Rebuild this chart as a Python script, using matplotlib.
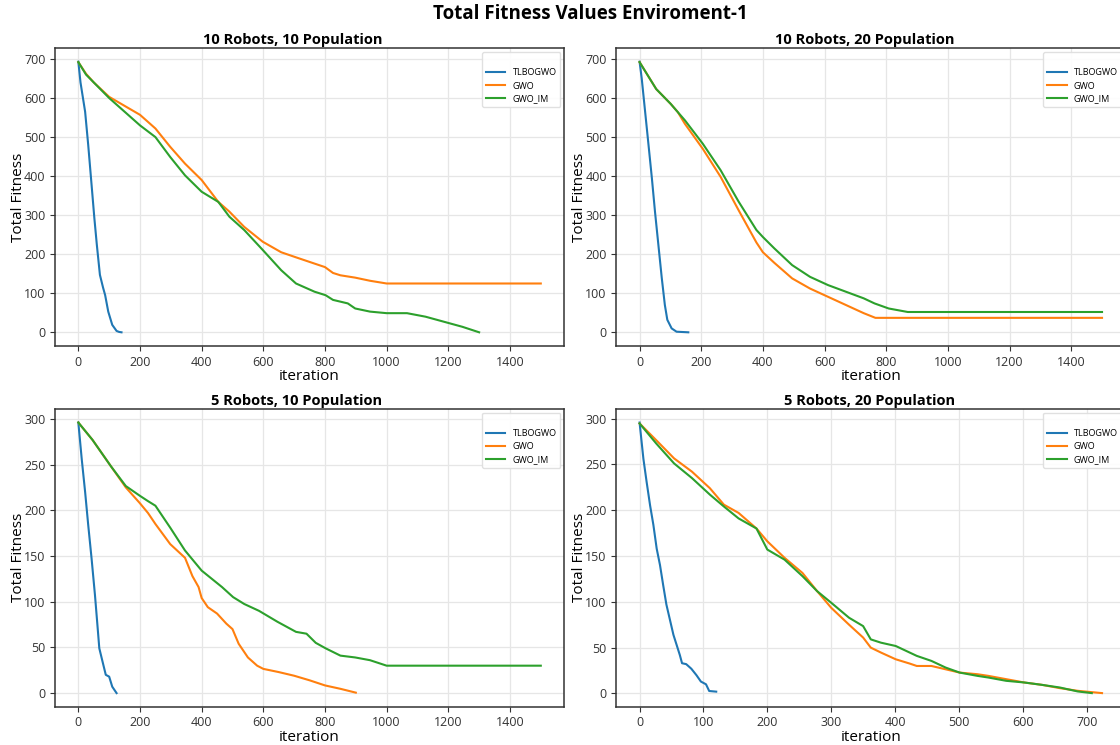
import matplotlib
matplotlib.use("Agg")
import matplotlib.pyplot as plt

plt.rcParams["font.family"] = ["Open Sans", "DejaVu Sans"]

# ---- 10 Robots, 10 Population ----
a_tlbo_it = [0, 7, 22, 32, 43, 52, 60, 70, 80, 87, 97, 110, 124, 132, 140]
a_tlbo_v = [693, 640, 565, 480, 377, 292, 224, 147, 115, 95, 53, 19, 3.5, 1, 0]
a_gwo_it = [0, 25, 50, 100, 150, 200, 250, 298, 346, 400, 454, 490, 538, 598, 658,
            706, 766, 800, 826, 850, 898, 946, 1000, 1500]
a_gwo_v = [692, 662, 640, 603, 580, 557, 522, 475, 432, 390, 334, 309, 270, 232, 205,
           192, 176, 167, 152, 146, 140, 132, 125, 125]
a_im_it = [0, 25, 50, 100, 150, 200, 250, 298, 346, 400, 454, 490, 538, 598, 658, 706,
           766, 802, 826, 874, 898, 946, 1000, 1066, 1126, 1186, 1246, 1300]
a_im_v = [692, 660, 640, 600, 565, 530, 500, 449, 402, 360, 334, 296, 262, 211, 159, 125,
          104, 95, 83, 74, 61, 53, 49, 49, 40, 27, 14, 0]

# ---- 10 Robots, 20 Population ----
b_tlbo_it = [0, 7, 18, 29, 40, 50, 61, 72, 82, 90, 104, 120, 158]
b_tlbo_v = [693, 650, 565, 480, 394, 309, 224, 139, 70, 32, 10, 1.5, 0]
b_gwo_it = [0, 54, 101, 124, 147, 205, 263, 321, 379, 400, 437, 495, 553, 611, 669, 727,
            765, 1500]
b_gwo_v = [692, 623, 585, 564, 534, 470, 398, 313, 230, 205, 178, 138, 112, 91, 70, 49,
           37, 37]
b_im_it = [0, 54, 101, 124, 147, 205, 263, 321, 379, 400, 437, 495, 553, 611, 669, 727,
           762, 808, 870, 1500]
b_im_v = [692, 623, 585, 564, 543, 483, 415, 335, 262, 244, 215, 172, 142, 121, 104, 87,
          74, 61, 52, 52]

# ---- 5 Robots, 10 Population ----
c_tlbo_it = [0, 11, 22, 32, 43, 54, 62, 68, 81, 89, 100, 110, 124]
c_tlbo_v = [296, 256, 220, 184, 147, 107, 74, 49, 31, 20, 18, 7, 0]
c_gwo_it = [0, 46, 106, 154, 199, 226, 250, 298, 346, 370, 390, 400, 420, 450, 480, 500,
            520, 550, 580, 600, 650, 700, 750, 800, 850, 900]
c_gwo_v = [296, 277, 248, 225, 208, 197, 185, 163, 148, 128, 116, 104, 94, 87, 76, 70,
           54, 39, 30, 26.5, 23, 19, 14, 8.4, 4.7, 0.5]
c_im_it = [0, 46, 106, 154, 199, 226, 250, 298, 346, 400, 466, 502, 538, 586, 646, 706,
           740, 770, 802, 850, 898, 946, 1000, 1500]
c_im_v = [296, 277, 248, 226.5, 216, 210, 205, 181, 156, 134, 116, 105, 97.5, 90, 78, 67,
          65, 55, 49, 41, 39, 36, 30, 30]

# ---- 5 Robots, 20 Population ----
d_tlbo_it = [0, 6, 11, 16.5, 21.6, 26.8, 32, 37, 42, 47, 53, 58, 63, 66.5, 73, 81, 89,
             96, 104, 109, 120]
d_tlbo_v = [295.6, 256, 231, 205, 184, 158, 140, 118, 97, 82, 64, 53, 42, 33, 32, 27, 20,
            13, 10, 2.7, 2]
d_gwo_it = [0, 26, 54, 82, 110, 132, 155, 183, 200, 227, 255, 278, 300, 328, 350, 362,
            378, 401, 423, 434, 457, 479, 501, 529, 546, 574, 602, 630, 658, 686, 724]
d_gwo_v = [294.6, 276.4, 256.5, 242, 224, 206, 197, 180, 166, 148, 131.5, 111.6, 93.5,
           75, 61, 50, 44.6, 37.3, 32.6, 30, 30, 26.4, 22.8, 21, 19.2, 15.6, 12, 9.4, 5.8,
           2.9, 0.4]
d_im_it = [0, 26, 54, 82, 110, 132, 155, 183, 200, 227, 255, 278, 300, 328, 350, 362,
           378, 401, 423, 434, 457, 479, 501, 529, 546, 574, 602, 630, 658, 686, 708]
d_im_v = [294.6, 272.8, 251, 235, 217, 204, 191, 180, 157, 146, 128, 111.6, 99, 82.6,
          73.5, 59, 55.4, 51.8, 44.6, 41, 35.5, 28.3, 22.8, 19.2, 17.4, 13.8, 12, 9.4, 6.5,
          2.2, 0.4]

titles = ["10 Robots, 10 Population", "10 Robots, 20 Population",
          "5 Robots, 10 Population", "5 Robots, 20 Population"]
series_names = ["TLBOGWO", "GWO", "GWO_IM"]
colors = ["#1f77b4", "#ff7f0e", "#2ca02c"]

panels = [
    [(a_tlbo_it, a_tlbo_v), (a_gwo_it, a_gwo_v), (a_im_it, a_im_v)],
    [(b_tlbo_it, b_tlbo_v), (b_gwo_it, b_gwo_v), (b_im_it, b_im_v)],
    [(c_tlbo_it, c_tlbo_v), (c_gwo_it, c_gwo_v), (c_im_it, c_im_v)],
    [(d_tlbo_it, d_tlbo_v), (d_gwo_it, d_gwo_v), (d_im_it, d_im_v)],
]

fig = plt.figure(figsize=(11.2, 7.45), dpi=100)

# axes boxes in figure fractions; the right column runs past the right edge
left_x, right_x, width = 0.0493, 0.5504, 0.4542
top_y, bot_y, height = 0.5358, 0.0515, 0.3995
boxes = [(left_x, top_y), (right_x, top_y), (left_x, bot_y), (right_x, bot_y)]
title_x = [0.467, 0.489, 0.475, 0.498]

spine_col = "#333333"
for (x0, y0), title, tx, data in zip(boxes, titles, title_x, panels):
    ax = fig.add_axes([x0, y0, width, height])
    for (it, v), name, c in zip(data, series_names, colors):
        ax.plot(it, v, color=c, lw=1.5, label=name)
    ax.set_title(title, fontsize=10.5, fontweight="bold", pad=3, x=tx)
    ax.set_xlabel("iteration", fontsize=11, labelpad=0.5)
    ax.set_ylabel("Total Fitness", fontsize=11, labelpad=-1.5)
    ax.grid(True, color="#e6e6e6", lw=0.9)
    ax.set_axisbelow(True)
    for s in ax.spines.values():
        s.set_color(spine_col)
        s.set_linewidth(1.1)
    ax.tick_params(labelsize=9, colors=spine_col, length=3.5)
    leg = ax.legend(loc="upper right", fontsize=6.5, title=" ", title_fontsize=6.5,
                    frameon=True, framealpha=0.9, borderaxespad=0.4,
                    handlelength=2.2, labelspacing=0.45)
    leg.get_frame().set_edgecolor("#dddddd")

fig.suptitle("Total Fitness Values Enviroment-1", x=0.527, y=0.995,
             fontsize=13.5, fontweight="bold")

fig.savefig("out.png", dpi=100)
